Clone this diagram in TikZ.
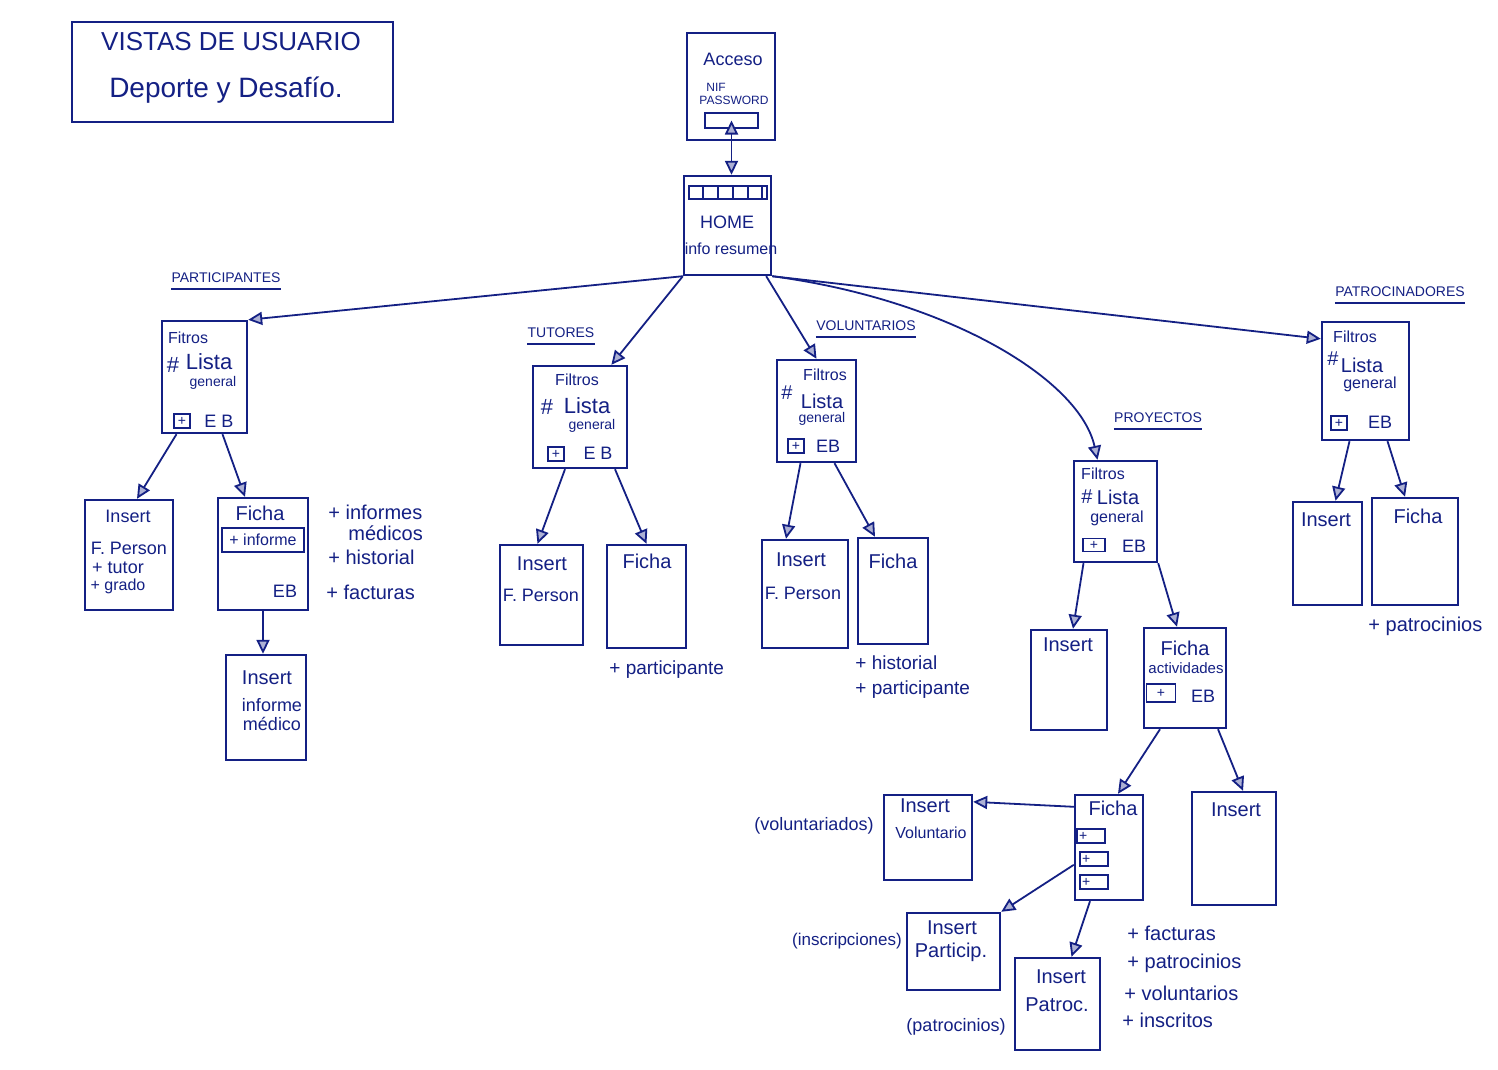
\documentclass[tikz,border=0pt]{standalone}
\usepackage{fontspec}
\setmainfont{Liberation Sans}
\usetikzlibrary{fit,arrows.meta,calc}
\definecolor{ink}{RGB}{20,32,132}
\begin{document}
\begin{tikzpicture}[x=0.5pt,y=-0.5pt,
  box/.style={draw=ink,line width=1.2pt,inner sep=0pt},
  tx/.style={text=ink,inner sep=0pt,font=\fontsize{#1}{#1}\selectfont},
  tx/.default=10,
  pbox/.style={draw=ink,line width=0.9pt,minimum width=8pt,minimum height=7pt,inner sep=0pt,text=ink,font=\fontsize{7}{7}\selectfont},
  tipx/.tip={Triangle[length=7pt,width=6.5pt,fill=ink!35,line width=0.9pt]},
  conn/.style={draw=ink,line width=0.9pt,-tipx},
  uline/.style={draw=ink,line width=0.9pt}]
\useasboundingbox (0,0) rectangle (1498,1070);
\fill[white] (0,0) rectangle (1498,1070);

% title
\node[box,fit={(72,22) (393,122)}] (title) {};
\node[tx=13] (t1) at (231,42) {VISTAS DE USUARIO};
\node[tx=14] (t2) at (226,90) {Deporte y Desafío.};

% acceso
\node[box,fit={(687,33) (775,140)}] (acc) {};
\node[tx=9] (acct) at (733,59) {Acceso};
\node[tx=6] (nif) at (716,87) {NIF};
\node[tx=6] (pwd) at (734,100) {PASSWORD};
\node[box,line width=0.9pt,fit={(705,113) (758,128)}] (pw) {};

% home
\node[box,fit={(684,176) (771,275)}] (home) {};
\node[box,line width=0.9pt,fit={(689,186) (767,199)}] (hbar) {};
\foreach \x in {703,718,733,748,762} \draw[ink,line width=0.9pt] (\x,186) -- (\x,199);
\node[tx=9] (homet) at (727,222) {HOME};
\node[tx=8] (info) at (731,249) {info resumen};
\draw[draw=ink,line width=0.9pt,tipx-tipx] (pw.center) -- (pw.center |- home.north);

% participantes
\node[tx=7] (lpart) at (226,278) {PARTICIPANTES};
\draw[uline] ([yshift=-3pt]lpart.south west) -- ([yshift=-3pt]lpart.south east);
\node[box,fit={(162,321) (247,433)}] (pfil) {};
\node[tx=8] (pfil1) at (188,338) {Fitros};
\node[tx=11] (pfil2) at (173,365) {\#};
\node[tx=11] (pfil3) at (209,362) {Lista};
\node[tx=7] (pfil4) at (213,383) {general};
\node[pbox] (pfil5) at (182,421) {+};
\node[tx=9] (pfil6) at (219,421) {E B};

\node[box,fit={(85,500) (173,610)}] (pins) {};
\node[tx=9] (pins1) at (128,516) {Insert};
\node[tx=9] (pins2) at (129,548) {F. Person};
\node[tx=9] (pins3) at (118,568) {+ tutor};
\node[tx=8] (pins4) at (118,586) {+ grado};

\node[box,fit={(218,498) (308,610)}] (pfic) {};
\node[tx=10] (pfic1) at (260,513) {Ficha};
\node[box,line width=0.9pt,minimum width=41pt,minimum height=12pt,text=ink,font=\fontsize{8}{8}\selectfont] (pfic2) at (263,540) {+ informe};
\node[tx=9] (pfic3) at (285,591) {EB};

\node[tx=10,anchor=west] (ps1) at (328,512) {+ informes};
\node[tx=10,anchor=west] (ps2) at (348,533) {médicos};
\node[tx=10,anchor=west] (ps3) at (328,557) {+ historial};
\node[tx=10,anchor=west] (ps4) at (326,592) {+ facturas};

\node[box,fit={(226,655) (306,760)}] (pinf) {};
\node[tx=10] (pinf1) at (267,678) {Insert};
\node[tx=9] (pinf2) at (272,705) {informe};
\node[tx=9] (pinf3) at (272,724) {médico};

% tutores
\node[tx=7] (ltut) at (561,333) {TUTORES};
\draw[uline] ([yshift=-3pt]ltut.south west) -- ([yshift=-3pt]ltut.south east);
\node[box,fit={(533,366) (627,468)}] (tfil) {};
\node[tx=8] (tfil1) at (577,380) {Filtros};
\node[tx=11] (tfil2) at (547,407) {\#};
\node[tx=11] (tfil3) at (587,406) {Lista};
\node[tx=7] (tfil4) at (592,426) {general};
\node[pbox] (tfil5) at (556,454) {+};
\node[tx=9] (tfil6) at (598,453) {E B};

\node[box,fit={(500,545) (583,645)}] (tins) {};
\node[tx=10] (tins1) at (542,564) {Insert};
\node[tx=9] (tins2) at (541,595) {F. Person};
\node[box,fit={(607,545) (686,648)}] (tfic) {};
\node[tx=10] (tfic1) at (647,561) {Ficha};
\node[tx=9.5,anchor=west] (ts1) at (609,670) {+ participante};

% voluntarios
\node[tx=7] (lvol) at (866,326) {VOLUNTARIOS};
\draw[uline] ([yshift=-3pt]lvol.south west) -- ([yshift=-3pt]lvol.south east);
\node[box,fit={(777,360) (856,462)}] (vfil) {};
\node[tx=8] (vfil1) at (825,375) {Filtros};
\node[tx=10] (vfil2) at (787,393) {\#};
\node[tx=10] (vfil3) at (822,401) {Lista};
\node[tx=7] (vfil4) at (822,419) {general};
\node[pbox] (vfil5) at (796,446) {+};
\node[tx=9] (vfil6) at (828,446) {EB};

\node[box,fit={(762,540) (848,648)}] (vins) {};
\node[tx=10] (vins1) at (801,560) {Insert};
\node[tx=9] (vins2) at (803,593) {F. Person};
\node[box,fit={(858,538) (928,644)}] (vfic) {};
\node[tx=10] (vfic1) at (893,561) {Ficha};
\node[tx=9.5,anchor=west] (vs1) at (855,663) {+ historial};
\node[tx=9.5,anchor=west] (vs2) at (855,690) {+ participante};

% proyectos
\node[tx=7] (lpro) at (1158,418) {PROYECTOS};
\draw[uline] ([yshift=-3pt]lpro.south west) -- ([yshift=-3pt]lpro.south east);
\node[box,fit={(1074,461) (1157,562)}] (pyfil) {};
\node[tx=8] (pyfil1) at (1103,474) {Filtros};
\node[tx=10] (pyfil2) at (1087,497) {\#};
\node[tx=10] (pyfil3) at (1118,497) {Lista};
\node[tx=8] (pyfil4) at (1117,518) {general};
\node[pbox,minimum width=11pt,minimum height=6.5pt] (pyfil5) at (1094,545) {+};
\node[tx=9] (pyfil6) at (1134,546) {EB};

\node[box,fit={(1031,630) (1107,730)}] (pyins) {};
\node[tx=10] (pyins1) at (1068,645) {Insert};
\node[box,fit={(1144,628) (1226,728)}] (pyfic) {};
\node[tx=10] (pyfic1) at (1185,648) {Ficha};
\node[tx=7.5] (pyfic2) at (1186,668) {actividades};
\node[pbox,minimum width=14.5pt,minimum height=9pt] (pyfic3) at (1161,693) {+};
\node[tx=9] (pyfic4) at (1203,696) {EB};

\node[box,fit={(1075,795) (1143,900)}] (pyf2) {};
\node[tx=10] (pyf21) at (1113,808) {Ficha};
\node[pbox,minimum width=14pt,text width=12pt,align=left] (pyf22) at (1091,836) {+};
\node[pbox,minimum width=14pt,text width=12pt,align=left] (pyf23) at (1094,859) {+};
\node[pbox,minimum width=14pt,text width=12pt,align=left] (pyf24) at (1094,882) {+};

\node[box,fit={(1192,792) (1276,905)}] (pyins2) {};
\node[tx=10] (pyins21) at (1236,810) {Insert};

\node[box,fit={(884,795) (972,880)}] (insvol) {};
\node[tx=10] (insvol1) at (925,806) {Insert};
\node[tx=8] (insvol2) at (931,833) {Voluntario};
\node[tx=9] (lvolu) at (814,826) {(voluntariados)};

\node[box,fit={(907,913) (1000,990)}] (inspart) {};
\node[tx=10] (inspart1) at (952,928) {Insert};
\node[tx=10] (inspart2) at (951,952) {Particip.};
\node[tx=8.5] (linsc) at (847,941) {(inscripciones)};

\node[box,fit={(1015,958) (1100,1050)}] (inspat) {};
\node[tx=10] (inspat1) at (1061,977) {Insert};
\node[tx=10] (inspat2) at (1057,1005) {Patroc.};
\node[tx=9] (lpatr) at (956,1027) {(patrocinios)};

\node[tx=10,anchor=west] (fs1) at (1127,933) {+ facturas};
\node[tx=10,anchor=west] (fs2) at (1127,963) {+ patrocinios};
\node[tx=10,anchor=west] (fs3) at (1124,993) {+ voluntarios};
\node[tx=10,anchor=west] (fs4) at (1122,1020) {+ inscritos};

% patrocinadores
\node[tx=7] (lpat) at (1400,292) {PATROCINADORES};
\draw[uline] ([yshift=-3pt]lpat.south west) -- ([yshift=-3pt]lpat.south east);
\node[box,fit={(1322,322) (1409,440)}] (patfil) {};
\node[tx=8] (patfil1) at (1355,337) {Filtros};
\node[tx=10] (patfil2) at (1333,359) {\#};
\node[tx=10] (patfil3) at (1362,365) {Lista};
\node[tx=8] (patfil4) at (1370,384) {general};
\node[pbox] (patfil5) at (1339,423) {+};
\node[tx=9] (patfil6) at (1380,422) {EB};

\node[box,fit={(1293,502) (1362,605)}] (patins) {};
\node[tx=10] (patins1) at (1326,520) {Insert};
\node[box,fit={(1372,498) (1458,605)}] (patfic) {};
\node[tx=10] (patfic1) at (1418,516) {Ficha};
\node[tx=10,anchor=west] (pts1) at (1368,626) {+ patrocinios};

% connectors
\draw[conn] (home.south west) -- (pfil.north east);
\draw[conn] (home.south west) -- (tfil.59);
\draw[conn] ([xshift=-3pt]home.south east) -- (vfil.north);
\draw[conn] (home.south east) .. controls (950,300) and (1080,380) .. ([xshift=-9pt]pyfil.north);
\draw[conn] (home.south east) -- ([yshift=-9pt]patfil.north west);

\draw[conn] ([xshift=-14pt]pfil.south) -- ([xshift=4pt]pins.north);
\draw[conn] ([xshift=9pt]pfil.south) -- ([xshift=-9pt]pfic.north);
\draw[conn] (pfic.south) -- (pfic.south |- pinf.north);

\draw[conn] ([xshift=-7.5pt]tfil.south) -- ([xshift=-2pt]tins.north);
\draw[conn] ([xshift=17.5pt]tfil.south) -- (tfic.north);

\draw[conn] ([xshift=-8pt]vfil.south) -- ([xshift=-9.5pt]vins.north);
\draw[conn] ([xshift=9pt]vfil.south) -- ([xshift=-9pt]vfic.north);

\draw[conn] ([xshift=-16pt]pyfil.south) -- ([xshift=2pt]pyins.north);
\draw[conn] (pyfil.south east) -- ([xshift=-4pt]pyfic.north);
\draw[conn] ([xshift=-12.5pt]pyfic.south) -- ([xshift=4.5pt]pyf2.north);
\draw[conn] ([xshift=16.5pt]pyfic.south) -- ([xshift=4.5pt]pyins2.north);

\draw[conn] ([yshift=-6.5pt]pyf2.north west) -- ([yshift=-4pt]insvol.north east);
\draw[conn] ([yshift=-35.5pt]pyf2.north west) -- (inspart.north east);
\draw[conn] ([xshift=-9.5pt]pyf2.south) -- ([xshift=7pt]inspat.north);

\draw[conn] ([xshift=-8pt]patfil.south) -- ([xshift=4pt]patins.north);
\draw[conn] ([xshift=11pt]patfil.south) -- ([xshift=-5pt]patfic.north);
\end{tikzpicture}
\end{document}
